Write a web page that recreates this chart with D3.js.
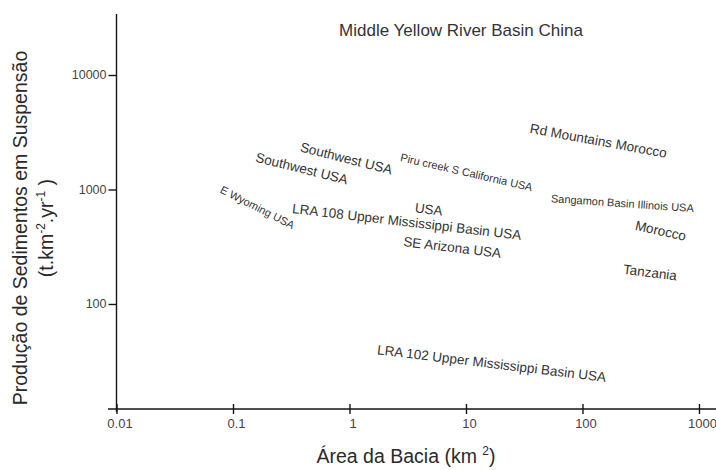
<!DOCTYPE html>
<html>
<head>
    <title>Produção de sedimentos x área da bacia</title>
    <script src="https://cdnjs.cloudflare.com/ajax/libs/d3/7.8.5/d3.min.js" charset="utf-8"></script>
    <style>
    body { margin:0; background:#fff; }
    svg { display:block; font-family:"Liberation Sans", Arial, sans-serif; }
    .axis path, .axis line { stroke:#151515; stroke-width:1.4px; }
    .axis text { fill:#444; }
    .region { fill:#333; }
    .title { fill:#2a2a2a; font-size:19.5px; }
    </style>
</head>
<body>
<div class='svg-container'></div>
<script>
    // regions (labels) and where they sit: basin area (km2), yield (t/km2/yr)
    var regions = [
        'Middle Yellow River Basin China',
        'Rd Mountains Morocco',
        'Southwest USA',
        'Piru creek S California USA',
        'Southwest USA',
        'Sangamon Basin Illinois USA',
        'E Wyoming USA',
        'USA',
        'LRA 108 Upper Mississippi Basin USA',
        'Morocco',
        'SE Arizona USA',
        'Tanzania',
        'LRA 102 Upper Mississippi Basin USA'
    ];
    var areas  = [9.06, 137, 0.94, 10.1, 0.39, 220, 0.162, 4.79, 3.1, 469, 7.62, 380, 16.6];
    var yields = [24700, 2669, 1873, 1413, 1531, 758, 699, 671, 523, 437, 313, 189, 30.3];

    // tilt (deg) and font size of each label
    var tilt  = [0, 10.4, 14.3, 13, 14, 4, 27, 7, 6.7, 12.5, 6.9, 7, 6.9];
    var fsize = [17, 13.5, 13.5, 11, 13.5, 11, 11, 13.5, 13.5, 13.5, 13.5, 13.5, 13.5];

    var x_ticks = [0.01, 0.1, 1, 10, 100, 1000];
    var x_tick_labels = ['0.01', '0.1', '1', '10', '100', '1000'];
    var y_ticks = [100, 1000, 10000];
    var y_tick_labels = ['100', '1000', '10000'];

    var width = 716;
    var height = 470;

    var svg = d3.select('.svg-container').append('svg')
        .attr('width', width)
        .attr('height', height);

    var x = d3.scaleLog().domain([0.01, 1400]).range([116.5, 716]);
    var y = d3.scaleLog().domain([12.1, 34100]).range([409, 14]);

    // x axis, ticks cross the line
    var xAxis = svg.append('g')
        .attr('class', 'axis')
        .attr('transform', 'translate(0,' + y.range()[0] + ')')
        .call(d3.axisBottom(x)
            .tickValues(x_ticks)
            .tickFormat(function(d, i) { return x_tick_labels[i]; })
            .tickSize(5)
            .tickSizeOuter(0)
            .tickPadding(5));
    xAxis.selectAll('.tick line').attr('y1', -5).attr('y2', 5);
    xAxis.selectAll('.tick text').style('font-size', '13px').attr('dx', 3);
    xAxis.select('.domain').attr('d', 'M108,0H716');

    // y axis
    var yAxis = svg.append('g')
        .attr('class', 'axis')
        .attr('transform', 'translate(' + x.range()[0] + ',0)')
        .call(d3.axisLeft(y)
            .tickValues(y_ticks)
            .tickFormat(function(d, i) { return y_tick_labels[i]; })
            .tickSize(8)
            .tickSizeOuter(0)
            .tickPadding(2));
    yAxis.selectAll('.tick text').style('font-size', '12.5px');
    yAxis.select('.domain').attr('d', 'M0,14V412');

    // region labels
    svg.selectAll('text.region')
        .data(regions)
        .enter().append('text')
        .attr('class', 'region')
        .attr('text-anchor', 'middle')
        .attr('dy', '0.35em')
        .attr('font-size', function(d, i) { return fsize[i]; })
        .attr('transform', function(d, i) {
            return 'translate(' + x(areas[i]) + ',' + y(yields[i]) + ') rotate(' + tilt[i] + ')';
        })
        .text(function(d) { return d; });

    // axis titles
    var xt = svg.append('text')
        .attr('class', 'title')
        .attr('text-anchor', 'middle')
        .attr('x', 406)
        .attr('y', 463);
    xt.append('tspan').text('Área da Bacia (km ');
    xt.append('tspan').attr('font-size', 12).attr('dy', -8).text('2');
    xt.append('tspan').attr('dy', 8).text(')');

    var yt = svg.append('g').attr('transform', 'translate(0,228) rotate(-90)');
    yt.append('text')
        .attr('class', 'title')
        .attr('text-anchor', 'middle')
        .attr('y', 27)
        .text('Produção de Sedimentos em Suspensão');
    var yt2 = yt.append('text')
        .attr('class', 'title')
        .attr('text-anchor', 'middle')
        .attr('y', 53);
    yt2.append('tspan').text('(t.km');
    yt2.append('tspan').attr('font-size', 12).attr('dy', -8).text('-2');
    yt2.append('tspan').attr('dy', 8).text('.yr');
    yt2.append('tspan').attr('font-size', 12).attr('dy', -8).text('-1');
    yt2.append('tspan').attr('dy', 8).text(' )');
</script>
</body>
</html>
